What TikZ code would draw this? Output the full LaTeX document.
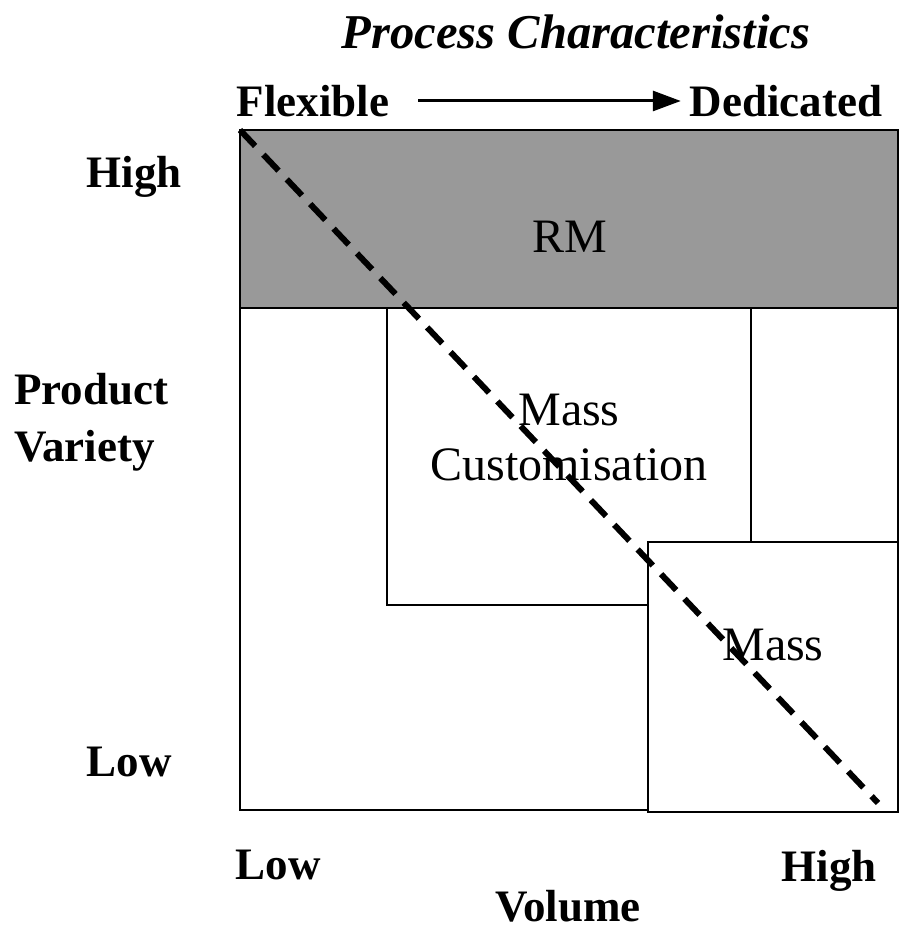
\documentclass[tikz,border=0pt]{standalone}
\usepackage{fontspec}
\setmainfont{Liberation Serif}
\usetikzlibrary{positioning}
\usetikzlibrary{arrows.meta}
\tikzset{axislabel/.style={font=\fontsize{22.5}{28.5}\selectfont\bfseries,align=center,inner sep=0pt},
         zonelabel/.style={font=\fontsize{24}{27.5}\selectfont,align=center,inner sep=0pt}}

\begin{document}
\begin{tikzpicture}[x=0.5pt,y=-0.5pt,line width=1pt]
        \useasboundingbox (0,0) rectangle (900,930);

        % zones of the map
        \draw[fill=black!40] (240,130) rectangle (898,308);
        \draw (240,308) rectangle (898,810);
        \draw (387,308) rectangle (751,605);
        \draw[fill=white] (648,542) rectangle (898,812);

        \node (rm)   [zonelabel] at (570,237) {RM};
        \node (mc)   [zonelabel] at (569,438) {Mass\\Customisation};
        \node (mass) [zonelabel] at (773,645) {Mass};

        % process axis
        \node (title) [axislabel,font=\fontsize{24.3}{28}\selectfont\bfseries\itshape] at (576,32) {Process Characteristics};
        \node (flex)  [axislabel] at (313,101) {Flexible};
        \node (ded)   [axislabel] at (786,101) {Dedicated};
        \draw[line width=1.5pt,-{Triangle[length=14pt,width=10pt]}] ([xshift=14pt]flex.east) -- ([xshift=-4pt]ded.west);

        % variety axis
        \node (vhigh) [axislabel] at (134,177) {High};
        \node (var)   [axislabel,align=left,anchor=west] at (13,422) {Product\\Variety};
        \node (vlow)  [axislabel] at (129,762) {Low};

        % volume axis
        \node (qlow)  [axislabel] at (278,865) {Low};
        \node (qhigh) [axislabel] at (829,871) {High};
        \node (vol)   [axislabel] at (568,906) {Volume};

        \coordinate (d0) at (240,130);
        \coordinate (d1) at (878,803);
        \draw[line width=3pt,dash pattern=on 11pt off 6pt] (d0) -- (d1);
\end{tikzpicture}
\end{document}
